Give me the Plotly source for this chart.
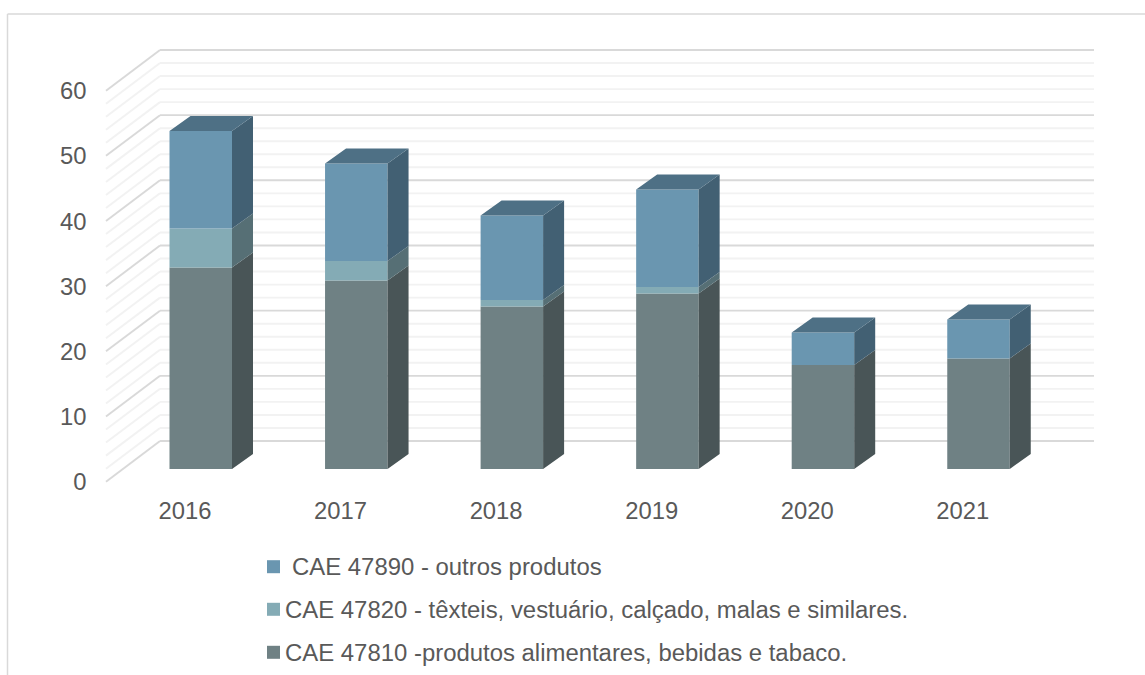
import plotly.graph_objects as go

YEARS = [2016, 2017, 2018, 2019, 2020, 2021]
ALIMENTARES = [31, 29, 25, 27, 16, 17]
TEXTEIS = [6, 3, 1, 1, 0, 0]
OUTROS = [15, 15, 13, 15, 5, 6]
NAMES = [
    "CAE 47810 -produtos alimentares, bebidas e tabaco.",
    "CAE 47820 - têxteis, vestuário, calçado, malas e similares.",
    "CAE 47890 - outros produtos",
]
Y_TICKS = list(range(0, 61, 10))
MINOR_STEP = 2

FRONT = ["#6F8184", "#84ABB5", "#6A96B0"]
SIDE = ["#495557", "#566F75", "#426073"]
TOP = "#4E7085"
TEXT = "#595959"
FONT = "Liberation Sans"
FS = 23.8
FS_LEGEND = 23.92
W, H = 1145, 675

# pixel calibration of the pseudo-3D projection
PX_YEAR, PX_UNIT, GRID_UNIT = 155.55, 6.5, 6.517
X0_PX, Y0_PX = 200.75, 469.0


def xr(px0=X0_PX):
    return [YEARS[0] - px0 / PX_YEAR, YEARS[0] + (W - px0) / PX_YEAR]


def yr(py0=Y0_PX, unit=PX_UNIT):
    return [(py0 - H) / unit, py0 / unit]


def X(px):
    return YEARS[0] + (px - X0_PX) / PX_YEAR


def V(py):
    return (Y0_PX - py) / PX_UNIT


HALF = 31.25 / PX_YEAR
DX, DY = 21 / PX_YEAR, 15 / PX_UNIT
BAR_W = 2 * HALF

series = [ALIMENTARES, TEXTEIS, OUTROS]
fig = go.Figure()

base = [0] * len(YEARS)
for vals, name, fc, sc in zip(series, NAMES, FRONT, SIDE):
    fig.add_trace(go.Bar(x=YEARS, y=vals, base=base, width=BAR_W, name=name,
                         marker=dict(color=fc, line=dict(width=0)), showlegend=False))
    xs, ys = [], []
    for yr_, b, v in zip(YEARS, base, vals):
        if v <= 0:
            continue
        r = yr_ + HALF
        xs += [r, r + DX, r + DX, r, r, None]
        ys += [b, b + DY, b + v + DY, b + v, b, None]
    fig.add_trace(go.Scatter(x=xs, y=ys, mode="lines", fill="toself", fillcolor=sc,
                             line=dict(width=0, color=sc), showlegend=False, hoverinfo="skip"))
    base = [b + v for b, v in zip(base, vals)]

xs, ys = [], []
for yr_, t in zip(YEARS, base):
    l, r = yr_ - HALF, yr_ + HALF
    xs += [l, r, r + DX, l + DX, l, None]
    ys += [t, t, t + DY, t + DY, t, None]
fig.add_trace(go.Scatter(x=xs, y=ys, mode="lines", fill="toself", fillcolor=TOP,
                         line=dict(width=0, color=TOP), showlegend=False, hoverinfo="skip"))

# walls: grid on back wall and along the left wall
shapes = []
BACK_L, BACK_R, FRONT_L = 160, 1094, 106
BACK_Y0, FRONT_Y0 = 441.0, 481.7
for v in range(Y_TICKS[0], Y_TICKS[-1] + 1, MINOR_STEP):
    major = v in Y_TICKS
    col = "#D9D9D9" if major else "#F2F2F2"
    yb = V(BACK_Y0 - v * GRID_UNIT)
    yf = V(FRONT_Y0 - v * GRID_UNIT)
    for x0, y0, x1, y1 in [(X(FRONT_L), yf, X(BACK_L), yb), (X(BACK_L), yb, X(BACK_R), yb)]:
        shapes.append(dict(type="line", xref="x", yref="y", x0=x0, y0=y0, x1=x1, y1=y1,
                           layer="below", line=dict(color=col, width=1.9)))

# chart frame (top and left edges)
frame = dict(color="#D9D9D9", width=1.5)
shapes.append(dict(type="line", xref="paper", yref="paper", x0=7.5 / W, x1=1, y0=1 - 14 / H, y1=1 - 14 / H, line=frame))
shapes.append(dict(type="line", xref="paper", yref="paper", x0=7.5 / W, x1=7.5 / W, y0=0, y1=1 - 14 / H, line=frame))

# legend
annotations = []
LEG = [(2, 566.7, 292), (1, 609.3, 285), (0, 652.3, 285)]
for i, py, tx in LEG:
    shapes.append(dict(type="rect", xref="paper", yref="paper", x0=267 / W, x1=280 / W,
                       y0=1 - (py + 6.5) / H, y1=1 - (py - 6.5) / H,
                       fillcolor=FRONT[i], line=dict(width=0)))
    annotations.append(dict(xref="paper", yref="paper", x=tx / W, y=1 - py / H, text=NAMES[i],
                            showarrow=False, xanchor="left", yanchor="middle", xshift=-2,
                            font=dict(family=FONT, size=FS_LEGEND, color=TEXT)))

fig.update_layout(
    width=W, height=H, margin=dict(l=0, r=0, t=0, b=0),
    paper_bgcolor="white", plot_bgcolor="white",
    barmode="overlay", showlegend=False, shapes=shapes, annotations=annotations,
    xaxis=dict(range=xr(), visible=False, fixedrange=True),
    yaxis=dict(range=yr(), visible=False, fixedrange=True),
    xaxis2=dict(overlaying="x", range=xr(185.0), tickvals=YEARS, tickformat="d", anchor="free",
                position=1 - 494 / H, showgrid=False, zeroline=False, showline=False, ticks="",
                side="bottom", fixedrange=True, tickfont=dict(family=FONT, size=FS, color=TEXT)),
    yaxis2=dict(overlaying="y", range=yr(FRONT_Y0 + 0.3, GRID_UNIT), tickvals=Y_TICKS, anchor="free",
                position=86.5 / W, showgrid=False, zeroline=False, showline=False, ticks="",
                side="left", fixedrange=True, tickfont=dict(family=FONT, size=FS, color=TEXT)),
)
# a hidden trace keeps the tick-label axes alive
fig.add_trace(go.Scatter(x=[YEARS[0]], y=[0], xaxis="x2", yaxis="y2", mode="markers",
                         marker=dict(opacity=0), showlegend=False, hoverinfo="skip"))

fig.write_html("out.html", config={"displayModeBar": False},
               post_script="document.body.style.margin='0';document.documentElement.style.overflow='hidden';")
